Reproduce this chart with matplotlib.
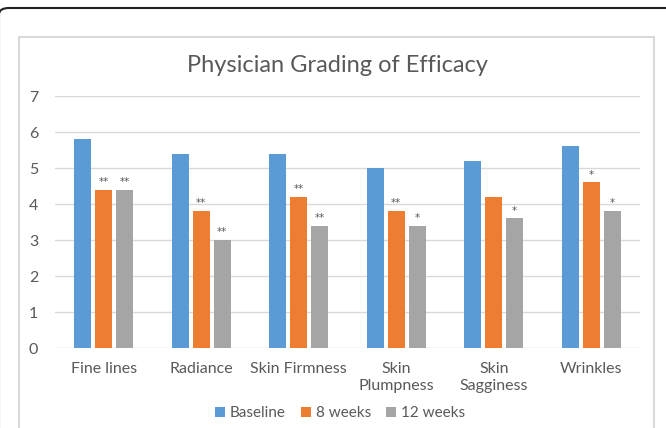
import matplotlib
matplotlib.use("Agg")
import matplotlib.pyplot as plt
import numpy as np
from matplotlib.lines import Line2D
from matplotlib.patches import FancyBboxPatch

# Data
categories = ["Fine lines", "Radiance", "Skin Firmness", "Skin\nPlumpness", "Skin\nSagginess", "Wrinkles"]
series_names = ["Baseline", "8 weeks", "12 weeks"]
baseline = [5.8, 5.4, 5.4, 5.0, 5.2, 5.6]
weeks8 = [4.4, 3.8, 4.2, 3.8, 4.2, 4.6]
weeks12 = [4.4, 3.0, 3.4, 3.4, 3.6, 3.8]
stars8 = ["**", "**", "**", "**", "", "*"]
stars12 = ["**", "**", "**", "*", "*", "*"]

colors = ["#5B9BD5", "#ED7D31", "#A5A5A5"]
text_color = "#595959"

plt.rcParams['font.family'] = ['Lato', 'DejaVu Sans']

W, H = 666, 428
fig = plt.figure(figsize=(W / 100, H / 100), dpi=100)
ax = fig.add_axes([55 / W, 1 - 348 / H, 585 / W, (348 - 96) / H])

x = np.arange(len(categories))
bw = 0.175
step = 0.215
all_series = [baseline, weeks8, weeks12]
for i, (vals, name, c) in enumerate(zip(all_series, series_names, colors)):
    ax.bar(x + (i - 1) * step, vals, width=bw, color=c, label=name, zorder=3)

for vals, stars, off in [(weeks8, stars8, 0), (weeks12, stars12, step)]:
    for xi, v, s in zip(x, vals, stars):
        if s:
            ax.text(xi + off, v + 0.08, s, ha="center", va="bottom", family="DejaVu Sans",
                    fontsize=7.5, color=text_color, zorder=4)

ax.set_xlim(-0.5, len(categories) - 0.5)
ax.set_ylim(0, 7)
ax.set_yticks(range(8))
ax.yaxis.grid(True, color="#D9D9D9", linewidth=1, zorder=0)
for sp in ax.spines.values():
    sp.set_visible(False)
ax.tick_params(axis="both", length=0, colors=text_color, labelsize=11.5)
ax.tick_params(axis="y", pad=12)
ax.tick_params(axis="x", pad=10)
ax.set_xticks(x)
ax.set_xticklabels(categories, linespacing=1.3)

fig.text(337 / W, 1 - 65 / H, "Physician Grading of Efficacy", ha="center", va="center",
         fontsize=17, color=text_color)

leg = fig.legend(loc="center", bbox_to_anchor=(340 / W, 1 - 413 / H), ncol=3, frameon=False,
                 fontsize=11, handlelength=0.65, handleheight=0.65, handletextpad=0.3,
                 columnspacing=1.0, labelcolor=text_color)

# chart frame and outer border
fig.add_artist(Line2D([18.5 / W, 18.5 / W, 654 / W, 654 / W], [0, 1 - 36.5 / H, 1 - 36.5 / H, 0],
                      transform=fig.transFigure, color="#D9D9D9", linewidth=1.5))
fig.add_artist(FancyBboxPatch((-1 / W, -0.2), 1.1, 1.2 - 8 / H,
                              boxstyle="round,pad=0,rounding_size=0.015",
                              transform=fig.transFigure, fill=False,
                              edgecolor="#222222", linewidth=1.5))

fig.savefig("out.png", dpi=100)
